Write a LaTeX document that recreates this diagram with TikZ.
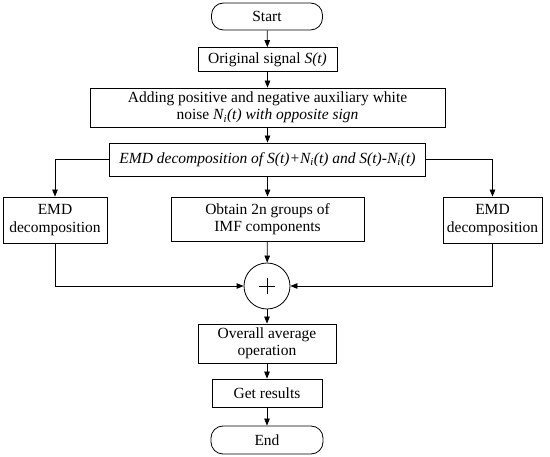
\documentclass[tikz,border=0pt]{standalone}
\usepackage{fontspec}
\setmainfont{Liberation Serif}
\usetikzlibrary{calc, arrows.meta}

\begin{document}
\begin{tikzpicture}[x=1pt, y=-1pt, line width=0.8pt,
        box/.style={draw, align=center, inner sep=1pt, font=\fontsize{15.5}{17.5}\selectfont},
        term/.style={box, rounded corners=12pt, minimum width=111pt, minimum height=27pt},
        arr/.style={-{Triangle[length=7pt,width=5.5pt]}}]
            \useasboundingbox (0,0) rectangle (550,457);
            \node[term] (start) at (267,16.5) {Start};
            \node[box, minimum width=139pt, minimum height=24pt] (signal) at (267.5,59.5) {Original signal \textit{S(t)}};
            \node[box, minimum width=355pt, minimum height=39pt] (noise) at (267.5,107.5)
                {Adding positive and negative auxiliary white\\ noise \textit{N\textsubscript{i}(t) with opposite sign}};
            \node[box, minimum width=316pt, minimum height=33pt] (decomp) at (267.5,159.5)
                {\textit{EMD decomposition of S(t)+N\textsubscript{i}(t) and S(t)-N\textsubscript{i}(t)}};
            \node[box, minimum width=104pt, minimum height=46pt] (emdL) at (55,220) {EMD\\ decomposition};
            \node[box, minimum width=193pt, minimum height=44pt] (imf) at (267.5,219) {Obtain 2n groups of\\ IMF components};
            \node[box, minimum width=99pt, minimum height=46pt] (emdR) at (492.5,220) {EMD\\ decomposition};
            \node[draw, circle, minimum size=46pt, inner sep=0pt] (sum) at (267,286) {};
            \draw ($(sum.center)+(-8,0)$) -- ++(16,0);
            \draw ($(sum.center)+(0,-8)$) -- ++(0,16);
            \node[box, minimum width=138pt, minimum height=39pt] (avg) at (267,343.5) {Overall average\\ operation};
            \node[box, minimum width=110pt, minimum height=28pt] (result) at (267,393) {Get results};
            \node[term, minimum width=112pt, minimum height=28pt] (stop) at (267,440) {End};
            \draw[arr] (start) -- (signal);
            \draw[arr] (signal) -- (noise);
            \draw[arr] (noise) -- (decomp);
            \draw[arr] (decomp.west) -| (emdL.north);
            \draw[arr] (decomp.east) -| (emdR.north);
            \draw[arr] (decomp) -- (imf);
            \draw[arr] (imf) -- (sum);
            \draw[arr] (emdL.south) |- (sum.west);
            \draw[arr] (emdR.south) |- (sum.east);
            \draw[arr] (sum) -- (avg);
            \draw[arr] (avg) -- (result);
            \draw[arr] (result) -- (stop);
        \end{tikzpicture}
\end{document}
